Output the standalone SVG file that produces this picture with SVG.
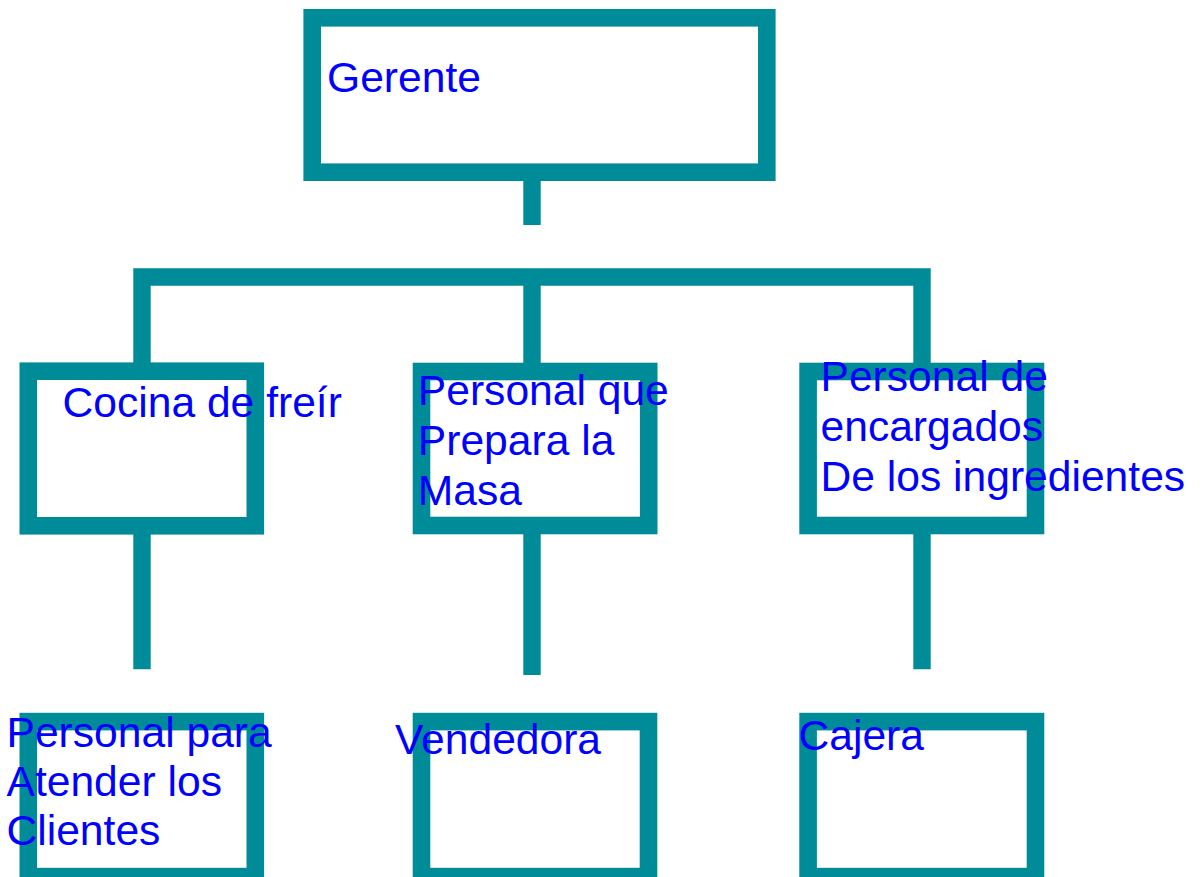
<svg xmlns="http://www.w3.org/2000/svg" width="1203" height="877" viewBox="0 0 1203 877">
<style>
.box{fill:#ffffff;stroke:#008B99;stroke-width:17.6}
.ln{fill:none;stroke:#008B99;stroke-width:17.4;stroke-linecap:butt;stroke-linejoin:miter}
.t{font-family:"Liberation Sans",Arial,sans-serif;font-size:42.6px;fill:#0000FF}
</style>
<rect width="1203" height="877" fill="#ffffff"/>
<g id="connectors">
<path class="ln" d="M532,172 V225"/>
<path class="ln" d="M142,372 V277 H922 V372"/>
<path class="ln" d="M532,277 V372"/>
<path class="ln" d="M142,526 V669.3"/>
<path class="ln" d="M532,526 V675"/>
<path class="ln" d="M922,526 V669.3"/>
</g>
<g id="gerente">
<rect class="box" x="312.2" y="17.8" width="454.6" height="154.4"/>
<text class="t" x="327" y="92">Gerente</text>
</g>
<g id="cocina">
<rect class="box" x="28.3" y="371.2" width="227" height="154.6"/>
<text class="t" x="62.5" y="417">Cocina de freír</text>
</g>
<g id="masa">
<rect class="box" x="421.5" y="371.5" width="227.2" height="154"/>
<text class="t" x="417.8"><tspan x="417.8" y="405">Personal que</tspan><tspan x="417.8" y="455">Prepara la</tspan><tspan x="417.8" y="505">Masa</tspan></text>
</g>
<g id="ingredientes">
<rect class="box" x="808.1" y="371.5" width="227.4" height="154"/>
<text class="t" x="820.5"><tspan x="820.5" y="391">Personal de</tspan><tspan x="820.5" y="441">encargados</tspan><tspan x="820.5" y="491">De los ingredientes</tspan></text>
</g>
<g id="clientes">
<rect class="box" x="28.3" y="721.6" width="227" height="155"/>
<text class="t" x="6.5"><tspan x="6.5" y="747">Personal para</tspan><tspan x="6.5" y="796">Atender los</tspan><tspan x="6.5" y="845">Clientes</tspan></text>
</g>
<g id="vendedora">
<rect class="box" x="421.5" y="721.6" width="227" height="155"/>
<text class="t" x="395" y="754">Vendedora</text>
</g>
<g id="cajera">
<rect class="box" x="808.1" y="721.6" width="227.4" height="155"/>
<text class="t" x="798.5" y="750">Cajera</text>
</g>
</svg>
